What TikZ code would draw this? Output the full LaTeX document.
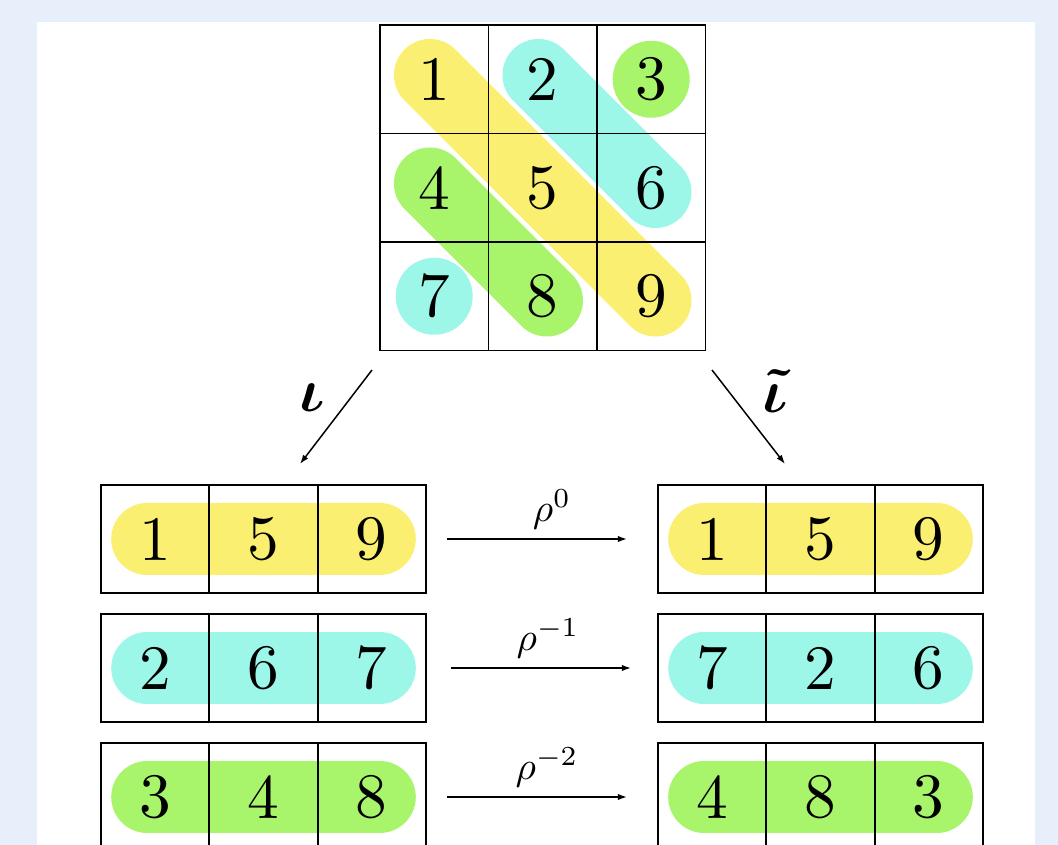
\documentclass[tikz,border=0pt]{standalone}
\usepackage{amsmath,bm}
\usepackage{graphicx}
\usepackage{tikz}
\usetikzlibrary{arrows.meta,positioning,backgrounds}
\definecolor{pagebg}{HTML}{E7F0FA}
\definecolor{ylw}{HTML}{FBEF72}
\definecolor{cyn}{HTML}{9DF7E8}
\definecolor{grn}{HTML}{A8F56C}
\newcommand{\pxu}{0.025cm}
\newcommand{\cellnum}[1]{\scalebox{4.5}{#1}}
\newcommand{\maplbl}[2]{\scalebox{#1}{#2}}
\tikzset{
  gcell/.style={draw, line width=1.8*\pxu, minimum size=108.5*\pxu, inner sep=0pt, outer sep=0pt, font=\fontsize{10}{12}\selectfont},
  rcell/.style={gcell, minimum width=108.3*\pxu, minimum height=108*\pxu},
  pill/.style={draw=#1, line width=72*\pxu, line cap=round},
  gpill/.style={pill=#1, shorten <=-6*\pxu, shorten >=-6*\pxu},
  rpill/.style={pill=#1, shorten <=-8*\pxu, shorten >=-8*\pxu},
  fl/.style={-{Latex[length=2.3mm, width=1.6mm]}, line width=1.5*\pxu},
  lbl/.style={font=\fontsize{10}{12}\selectfont, inner sep=2*\pxu},
  mapl/.style={font=\fontsize{10}{12}\selectfont, inner sep=0pt},
}

\begin{document}
\begin{tikzpicture}[x=\pxu, y=-\pxu]
  \useasboundingbox (0,0) rectangle (1058,845);
  \clip (0,0) rectangle (1058,845);
  % ---- 3x3 grid ----
  \foreach \a/\b/\c [count=\r from 0] in {1/2/3,4/5/6,7/8/9} {
    \node[gcell] (g\a) at (434.2, {79.25+108.5*\r}) {\cellnum{\a}};
    \node[gcell, right=0pt of g\a] (g\b) {\cellnum{\b}};
    \node[gcell, right=0pt of g\b] (g\c) {\cellnum{\c}};
  }

  % ---- rows before / after ----
  \foreach \a/\b/\c/\d/\e/\f [count=\r] in {1/5/9/1/5/9,2/6/7/7/2/6,3/4/8/4/8/3} {
    \node[rcell] (l\r-a) at (155.2, {539+129*(\r-1)}) {\cellnum{\a}};
    \node[rcell, right=0pt of l\r-a] (l\r-b) {\cellnum{\b}};
    \node[rcell, right=0pt of l\r-b] (l\r-c) {\cellnum{\c}};
    \node[rcell] (r\r-a) at (712.2, {539+129*(\r-1)}) {\cellnum{\d}};
    \node[rcell, right=0pt of r\r-a] (r\r-b) {\cellnum{\e}};
    \node[rcell, right=0pt of r\r-b] (r\r-c) {\cellnum{\f}};
  }

  % ---- maps ----
  \coordinate (il-s) at (372,370); \coordinate (il-e) at (300,464);
  \coordinate (ir-s) at (712,370); \coordinate (ir-e) at (785,464);
  \draw[fl] (il-s) -- (il-e);
  \draw[fl] (ir-s) -- (ir-e);
  \node[mapl] (iota) at (312,398) {\maplbl{4.4}{$\bm{\iota}$}};
  \node[mapl] (iotat) at (775,391) {\maplbl{4.4}{$\bm{\tilde{\iota}}$}};
  \foreach \r/\p/\s/\t/\dx in {1/0/21/31/10,2/{-1}/25/27/6,3/{-2}/21/31/5}
    \draw[fl, shorten <=\s*\pxu, shorten >=\t*\pxu] (l\r-c.east) --
      node[lbl, above, yshift=7*\pxu, xshift=\dx*\pxu] (rho\r) {\maplbl{2.8}{$\rho^{\p}$}} (r\r-a.west);

  % ---- page and coloured bands ----
  \begin{scope}[on background layer]
    \fill[pagebg] (0,0) rectangle (1058,845);
    \fill[white] (37,22) rectangle (1035,845);
    \draw[gpill=ylw] (g1.center) -- (g9.center);
    \draw[gpill=cyn] (g2.center) -- (g6.center);
    \draw[gpill=grn] (g4.center) -- (g8.center);
    \fill[grn] (g3) circle[radius=38.5*\pxu];
    \fill[cyn] (g7) circle[radius=38.5*\pxu];
    \foreach \r/\col in {1/ylw,2/cyn,3/grn} {
      \draw[rpill=\col] (l\r-a.center) -- (l\r-c.center);
      \draw[rpill=\col] (r\r-a.center) -- (r\r-c.center);
    }
  \end{scope}
\end{tikzpicture}
\end{document}
